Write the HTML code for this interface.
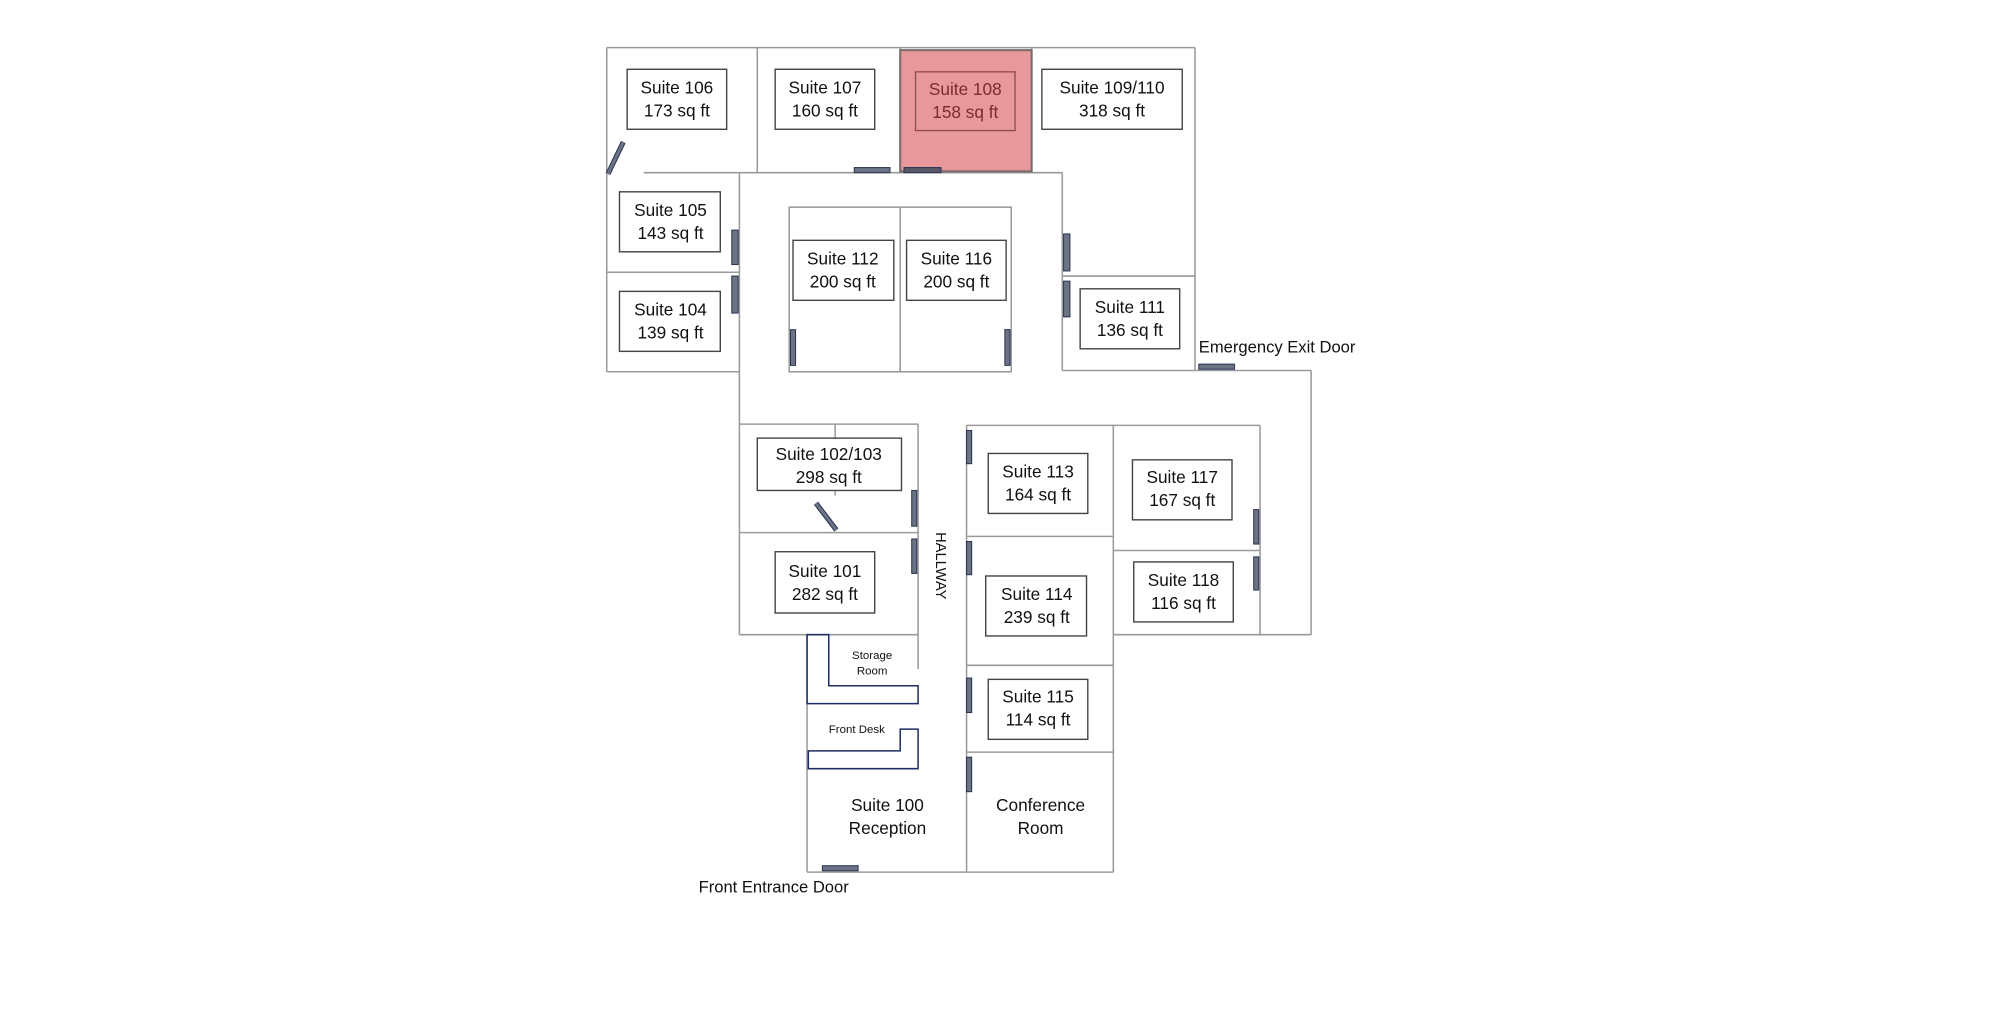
<!DOCTYPE html>
<html><head><meta charset="utf-8"><style>
html,body{margin:0;padding:0;background:#fff;width:2000px;height:1034px;overflow:hidden}
svg{display:block}
text{font-family:"Liberation Sans",sans-serif;fill:#111}
</style></head><body>
<svg width="2000" height="1034" viewBox="0 0 1556 804" preserveAspectRatio="none" xmlns="http://www.w3.org/2000/svg">
<g transform="matrix(0.9928 0 0 0.9924 -0.55 0.29)">
<g stroke="#9a9a9a" stroke-width="1.2" fill="none">
<line x1="476" y1="37" x2="937" y2="37"/>
<line x1="476" y1="37" x2="476" y2="291"/>
<line x1="937" y1="37" x2="937" y2="290"/>
<line x1="594" y1="37" x2="594" y2="135"/>
<line x1="706" y1="37" x2="706" y2="135"/>
<line x1="809" y1="37" x2="809" y2="135"/>
<line x1="505" y1="135" x2="833" y2="135"/>
<line x1="580" y1="135" x2="580" y2="497"/>
<line x1="476" y1="213" x2="580" y2="213"/>
<line x1="476" y1="291" x2="580" y2="291"/>
<line x1="833" y1="135" x2="833" y2="290"/>
<line x1="833" y1="216" x2="937" y2="216"/>
<rect x="619" y="162" width="174" height="129"/>
<line x1="706" y1="162" x2="706" y2="291"/>
<line x1="833" y1="290" x2="1028" y2="290"/>
<line x1="1028" y1="290" x2="1028" y2="497"/>
<line x1="580" y1="332" x2="720" y2="332"/>
<line x1="720" y1="332" x2="720" y2="524"/>
<line x1="655" y1="332" x2="655" y2="388"/>
<line x1="580" y1="417" x2="720" y2="417"/>
<line x1="580" y1="497" x2="720" y2="497"/>
<line x1="633" y1="497" x2="633" y2="683"/>
<line x1="633" y1="683" x2="873" y2="683"/>
<line x1="758" y1="333" x2="758" y2="683"/>
<line x1="873" y1="333" x2="873" y2="683"/>
<line x1="758" y1="333" x2="988" y2="333"/>
<line x1="988" y1="333" x2="988" y2="497"/>
<line x1="873" y1="497" x2="1028" y2="497"/>
<line x1="758" y1="420" x2="873" y2="420"/>
<line x1="873" y1="431" x2="988" y2="431"/>
<line x1="758" y1="521" x2="873" y2="521"/>
<line x1="758" y1="589" x2="873" y2="589"/>
</g>
<rect x="706" y="39" width="103" height="95" fill="#e8979b" stroke="#7a6a6a" stroke-width="1.6"/>
<g fill="none" stroke="#1f2f66" stroke-width="1.2">
<polygon points="633,497 633,551 720,551 720,537 650,537 650,497"/>
<polygon points="634,588 634,602 720,602 720,571 706,571 706,588"/>
</g>
<g fill="#6b7384" stroke="#2a3552" stroke-width="0.8">
<rect x="670" y="131" width="28" height="4"/>
<rect x="709" y="131" width="29" height="4" fill="#5a5868"/>
<rect x="574" y="180" width="5" height="27"/>
<rect x="574" y="216" width="5" height="29"/>
<rect x="834" y="183" width="5" height="29"/>
<rect x="834" y="220" width="5" height="28"/>
<rect x="620" y="258" width="4" height="28"/>
<rect x="788" y="258" width="4" height="28"/>
<rect x="940" y="285" width="28" height="4"/>
<rect x="715" y="384" width="4" height="28"/>
<rect x="715" y="422" width="4" height="27"/>
<rect x="758" y="337" width="4" height="26"/>
<rect x="758" y="424" width="4" height="26"/>
<rect x="758" y="531" width="4" height="27"/>
<rect x="758" y="593" width="4" height="27"/>
<rect x="983" y="399" width="4" height="27"/>
<rect x="983" y="436" width="4" height="26"/>
<rect x="645" y="678" width="28" height="4"/>
</g>
<g stroke="#2a3552" stroke-width="4"><line x1="477" y1="136" x2="489" y2="111"/><line x1="640" y1="394" x2="656" y2="415"/></g>
<g stroke="#6b7384" stroke-width="2.4"><line x1="477" y1="136" x2="489" y2="111"/><line x1="640" y1="394" x2="656" y2="415"/></g>
<g fill="#fff" stroke="#444" stroke-width="1.1">
<rect x="492" y="54" width="78" height="47"/>
<rect x="608" y="54" width="78" height="47"/>
<rect x="817" y="54" width="110" height="47"/>
<rect x="486" y="150" width="79" height="47"/>
<rect x="486" y="228" width="79" height="47"/>
<rect x="622" y="188" width="79" height="47"/>
<rect x="711" y="188" width="78" height="47"/>
<rect x="847" y="226" width="78" height="47"/>
<rect x="594" y="343" width="113" height="41"/>
<rect x="608" y="432" width="78" height="48"/>
<rect x="775" y="355" width="78" height="47"/>
<rect x="888" y="360" width="78" height="47"/>
<rect x="773" y="451" width="79" height="47"/>
<rect x="889" y="440" width="78" height="47"/>
<rect x="775" y="532" width="78" height="47"/>
</g>
<rect x="718" y="56" width="78" height="46" fill="none" stroke="#8a4a50" stroke-width="1"/>
<g font-size="13.5" text-anchor="middle">
<text x="531" y="73">Suite 106</text><text x="531" y="91">173 sq ft</text>
<text x="647" y="73">Suite 107</text><text x="647" y="91">160 sq ft</text>
<text x="757" y="74" style="fill:#7a2a30">Suite 108</text><text x="757" y="92" style="fill:#7a2a30">158 sq ft</text>
<text x="872" y="73">Suite 109/110</text><text x="872" y="91">318 sq ft</text>
<text x="526" y="169">Suite 105</text><text x="526" y="187">143 sq ft</text>
<text x="526" y="247">Suite 104</text><text x="526" y="265">139 sq ft</text>
<text x="661" y="207">Suite 112</text><text x="661" y="225">200 sq ft</text>
<text x="750" y="207">Suite 116</text><text x="750" y="225">200 sq ft</text>
<text x="886" y="245">Suite 111</text><text x="886" y="263">136 sq ft</text>
<text x="650" y="360">Suite 102/103</text><text x="650" y="378">298 sq ft</text>
<text x="647" y="452">Suite 101</text><text x="647" y="470">282 sq ft</text>
<text x="814" y="374">Suite 113</text><text x="814" y="392">164 sq ft</text>
<text x="927" y="378">Suite 117</text><text x="927" y="396">167 sq ft</text>
<text x="813" y="470">Suite 114</text><text x="813" y="488">239 sq ft</text>
<text x="928" y="459">Suite 118</text><text x="928" y="477">116 sq ft</text>
<text x="814" y="550">Suite 115</text><text x="814" y="568">114 sq ft</text>
<text x="696" y="635">Suite 100</text><text x="696" y="653">Reception</text>
<text x="816" y="635">Conference</text><text x="816" y="653">Room</text>
</g>
<g font-size="9" text-anchor="middle">
<text x="684" y="516">Storage</text><text x="684" y="528">Room</text>
<text x="672" y="574">Front Desk</text>
</g>
<text x="734" y="443" font-size="11.5" text-anchor="middle" transform="rotate(90 734 443)">HALLWAY</text>
<text x="940" y="276" font-size="13">Emergency Exit Door</text>
<text x="548" y="699" font-size="13">Front Entrance Door</text>
</g>
</svg>
</body></html>
